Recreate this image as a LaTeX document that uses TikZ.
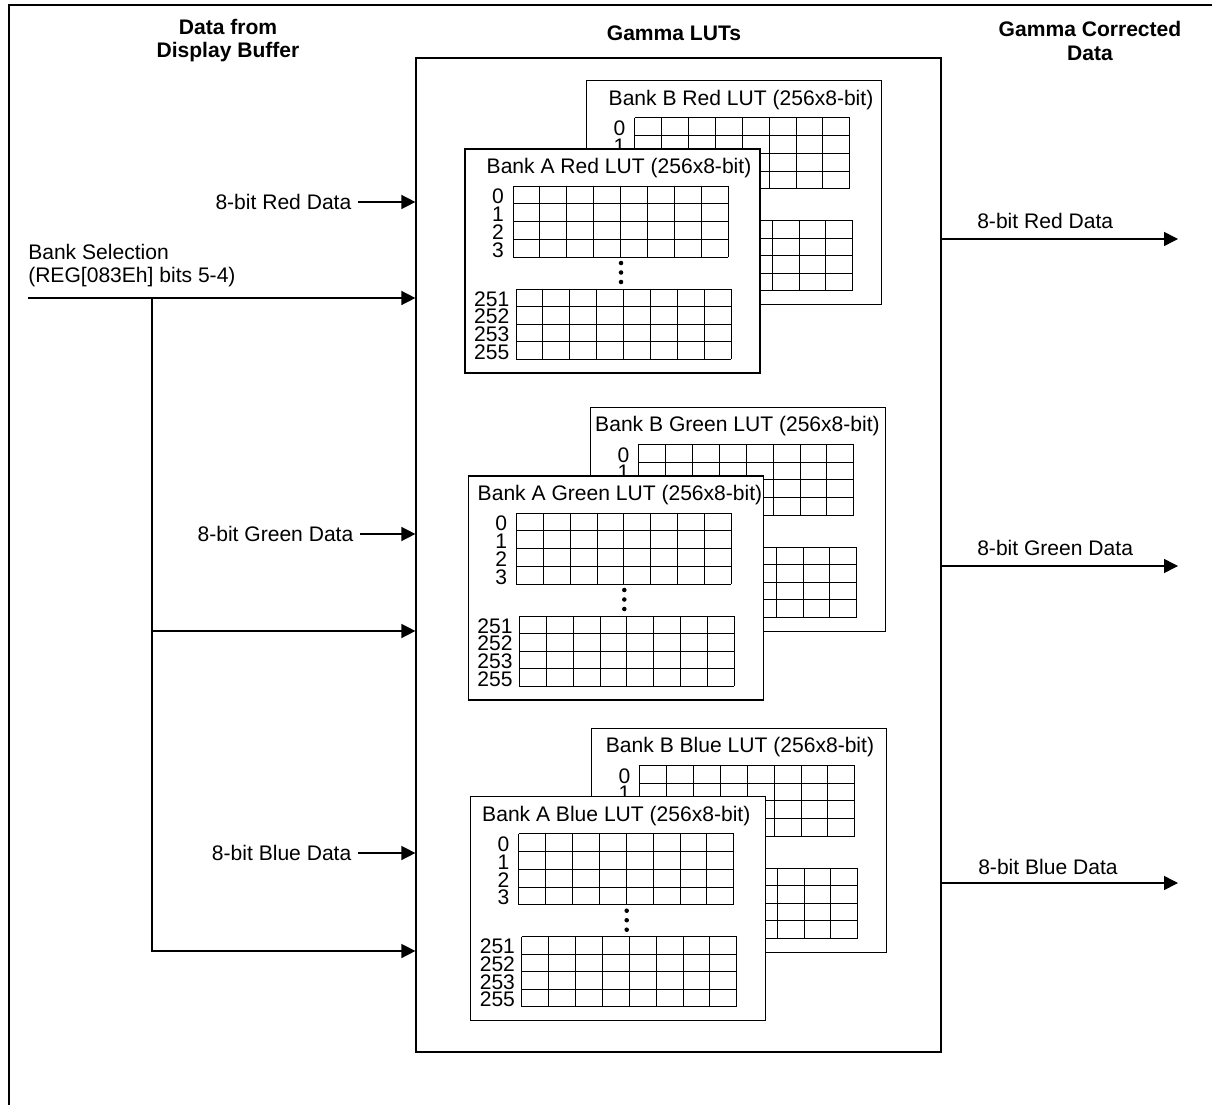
\documentclass[tikz,border=0pt]{standalone}
\usepackage{fontspec}
\setmainfont{Liberation Sans}
\usetikzlibrary{arrows.meta, positioning, calc, fit}

\begin{document}
\begin{tikzpicture}[
  x=0.75pt, y=-0.75pt,
  font=\fontsize{15.8}{17.5}\selectfont,
  frame/.style={line width=1.3pt},
  lutbox/.style={draw=black, fill=white, line width=0.9pt},
  cell/.style={line width=0.6pt},
  hdr/.style={font=\fontsize{15.8}{17.3}\selectfont\bfseries, align=center, inner sep=0pt},
  sig/.style={inner sep=0pt, outer xsep=5pt},
  rowlbl/.style={anchor=east, inner sep=0pt},
  arr/.style={-{Triangle[length=10.5pt, width=10.5pt]}, line width=1.1pt},
  wire/.style={line width=1.1pt},
  % table box with both row blocks, first two row numbers
  pics/lut/.style 2 args={code={
    \draw[lutbox] (0,0) rectangle (295,224);
    \node (-title) [anchor=base, inner sep=0pt] at (#1,24.5) {#2};
    \foreach \i in {0,...,8} {
      \draw[cell] ({48+26.875*\i},37) -- ++(0,71);
      \draw[cell] ({51+26.875*\i},140) -- ++(0,70);
    }
    \foreach \j in {0,...,4} {
      \draw[cell] (48,{37+17.75*\j}) -- ++(215,0);
      \draw[cell] (51,{140+17.5*\j}) -- ++(215,0);
    }
    \foreach \r [count=\k from 0] in {0,1}
      \node (-row\k) [rowlbl] at (39,{47.5+17.75*\k}) {\r};
  }},
  % rest of the row numbers and the dots (front bank only)
  pics/lutrows/.style={code={
    \foreach \r [count=\k from 2] in {2,3}
      \node (-row\k) [rowlbl] at (39,{47.5+17.75*\k}) {\r};
    \foreach \r [count=\k from 0] in {251,252,253,255}
      \node (-end\k) [rowlbl] at (44.5,{150+17.6*\k}) {\r};
    \foreach \d in {114,123.5,133}
      \fill (156,\d) circle[radius=1.7pt];
  }},
]
\useasboundingbox (0,0) rectangle (1212,1105);
\draw[frame] (9,1105) -- (9,5) -- (1212,5);

% column headers
\node (hbuf) [hdr] at (228,41) {Data from\\Display Buffer};
\node (hlut) [hdr] at (674,33) {Gamma LUTs};
\node (hout) [hdr] at (1090,41) {Gamma Corrected\\Data};

\node (gamma) [draw, line width=0.9pt, inner sep=0pt, fit={(416,58) (941,1052)}] {};

% look-up tables, bank B behind bank A
\pic (rb) at (586.7,80.7) {lut={154.3}{Bank B Red LUT (256x8-bit)}};
\pic (ra) at (465,149) {lut={154}{Bank A Red LUT (256x8-bit)}};
\pic (ra) at (465,149) {lutrows};
\pic (gb) at (590.7,407.3) {lut={146.8}{Bank B Green LUT (256x8-bit)}};
\pic (ga) at (468.3,476) {lut={151.7}{Bank A Green LUT (256x8-bit)}};
\pic (ga) at (468.3,476) {lutrows};
\pic (bb) at (591.7,728.3) {lut={148.3}{Bank B Blue LUT (256x8-bit)}};
\pic (ba) at (470.7,796.7) {lut={145.6}{Bank A Blue LUT (256x8-bit)}};
\pic (ba) at (470.7,796.7) {lutrows};

% inputs
\node (rin) [sig, anchor=east] at (358,202) {8-bit Red Data};
\node (gin) [sig, anchor=east] at (360,534) {8-bit Green Data};
\node (bin) [sig, anchor=east] at (358,853) {8-bit Blue Data};
\draw[arr] (rin) -- (rin -| gamma.west);
\draw[arr] (gin) -- (gin -| gamma.west);
\draw[arr] (bin) -- (bin -| gamma.west);

\node (bank) [anchor=north west, align=left, inner sep=0pt] at (28,244)
  {Bank Selection\\(REG[083Eh] bits 5-4)};
\coordinate (bsel) at (28,298);
\coordinate (bus) at (152,298);
\coordinate (tapg) at (152,631);
\coordinate (tapb) at (152,951);
\draw[arr] (bsel) -- (bsel -| gamma.west);
\draw[wire] (bus) -- ([yshift=-1pt]tapb);
\draw[arr] (tapg) -- (tapg -| gamma.west);
\draw[arr] (tapb) -- (tapb -| gamma.west);

% outputs
\coordinate (rout) at (1178,239);
\coordinate (gout) at (1178,566);
\coordinate (bout) at (1178,883);
\draw[arr] (rout -| gamma.east) -- (rout);
\draw[arr] (gout -| gamma.east) -- (gout);
\draw[arr] (bout -| gamma.east) -- (bout);
\node (routl) [anchor=base west, inner sep=0pt] at (977,228.5) {8-bit Red Data};
\node (goutl) [anchor=base west, inner sep=0pt] at (977,555.5) {8-bit Green Data};
\node (boutl) [anchor=base west, inner sep=0pt] at (978,874.5) {8-bit Blue Data};
\end{tikzpicture}
\end{document}
